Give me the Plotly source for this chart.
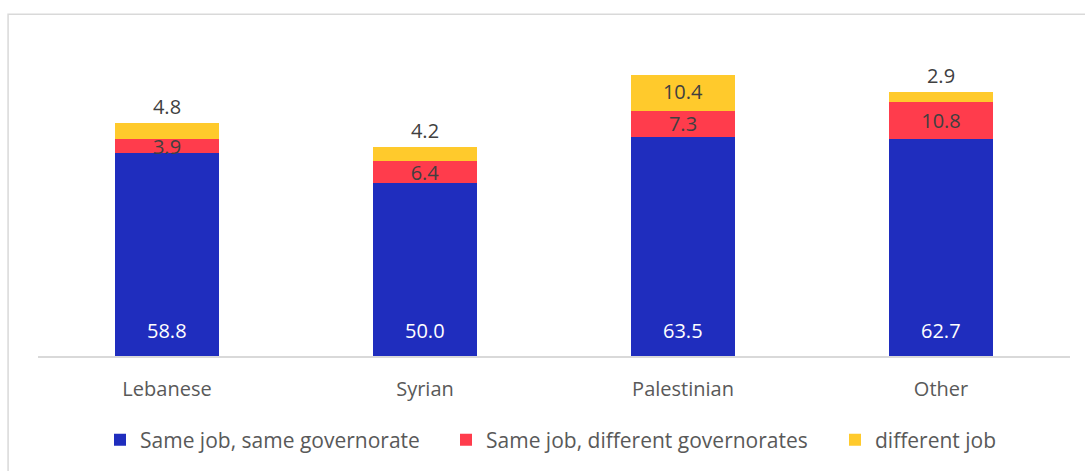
import plotly.graph_objects as go

categories = ["Lebanese", "Syrian", "Palestinian", "Other"]
same_job_same_gov = [58.8, 50.0, 63.5, 62.7]
same_job_diff_gov = [3.9, 6.4, 7.3, 10.8]
different_job = [4.8, 4.2, 10.4, 2.9]

series_names = ["Same job, same governorate", "Same job, different governorates", "different job"]
colors = ["#1F2DBE", "#FF3C4C", "#FFCA2C"]
yellow_pos = ["outside", "outside", "inside", "outside"]

FONT = "Open Sans"
TXT = "#404040"
LBL = 20

fig = go.Figure()
fig.add_trace(go.Bar(x=categories, y=same_job_same_gov, name=series_names[0],
                     marker=dict(color=colors[0], line=dict(width=0)),
                     hoverinfo="x+y", legend="legend"))
fig.add_trace(go.Bar(x=categories, y=same_job_diff_gov, name=series_names[1],
                     marker=dict(color=colors[1], line=dict(width=0)),
                     text=[f"{v:.1f}" for v in same_job_diff_gov],
                     textposition="inside", insidetextanchor="middle",
                     constraintext="none", cliponaxis=False,
                     textfont=dict(color=TXT, size=LBL, family=FONT),
                     legend="legend2"))
fig.add_trace(go.Bar(x=categories, y=different_job, name=series_names[2],
                     marker=dict(color=colors[2], line=dict(width=0)),
                     text=[f"{v:.1f}" for v in different_job],
                     textposition=yellow_pos, insidetextanchor="end",
                     constraintext="none", cliponaxis=False,
                     textfont=dict(color=TXT, size=LBL, family=FONT),
                     legend="legend3"))

# white labels near the bottom of blue bars
for c, v in zip(categories, same_job_same_gov):
    fig.add_annotation(x=c, y=0, text=f"{v:.1f}", showarrow=False,
                       yanchor="bottom", yshift=10,
                       font=dict(color="white", size=LBL, family=FONT))

fig.add_shape(type="rect", xref="paper", yref="paper",
              x0=-0.029, x1=1.05, y0=-0.5, y1=1.099,
              line=dict(color="#D9D9D9", width=1.5), fillcolor="rgba(0,0,0,0)",
              layer="below")

def leg(xpx):
    return dict(orientation="h", x=(xpx - 38) / 1032, xanchor="left",
                y=-0.266, yanchor="middle",
                font=dict(size=21, color="#595959", family=FONT),
                itemwidth=30, itemclick=False, bgcolor="rgba(0,0,0,0)")

fig.update_layout(
    width=1085, height=471,
    barmode="stack", bargap=0.6,
    margin=dict(l=38, r=15, t=45, b=114),
    paper_bgcolor="white", plot_bgcolor="white",
    font=dict(family=FONT, color="#595959", size=20),
    showlegend=True,
    legend=leg(100), legend2=leg(446), legend3=leg(835),
)
fig.update_xaxes(showline=True, linecolor="#D9D9D9", linewidth=1.5,
                 ticks="", showgrid=False, ticklabelstandoff=14,
                 tickfont=dict(size=20, color="#595959", family=FONT))
fig.update_yaxes(range=[0, 90], visible=False, showgrid=False)

fig.write_html("out.html", config={"displayModeBar": False},
               post_script="document.body.style.margin='0';document.body.style.overflow='hidden';")
